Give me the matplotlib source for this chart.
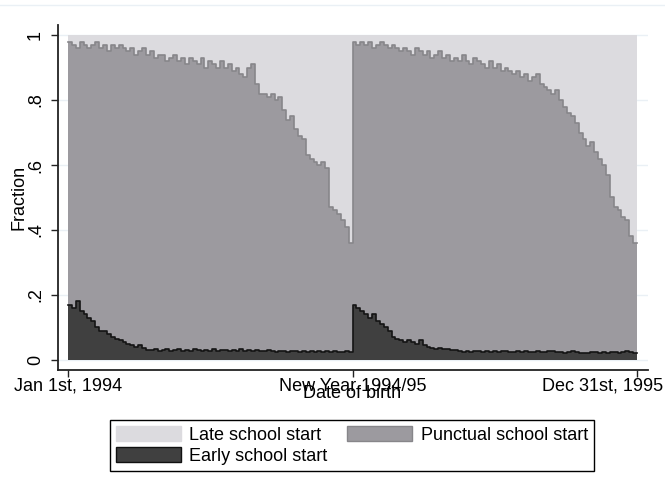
import numpy as np
import matplotlib
matplotlib.use('Agg')
import matplotlib.pyplot as plt
from matplotlib.patches import Patch
from matplotlib.transforms import ScaledTranslation

plt.rcParams['font.family'] = ['Liberation Sans', 'DejaVu Sans']

# ---- data (shares by 5-day bins of date of birth) ----
bin_days = 5

early_1994 = [0.17, 0.16, 0.18, 0.15, 0.14, 0.13, 0.12, 0.10, 0.09, 0.09,
              0.08, 0.07, 0.065, 0.06, 0.055, 0.05, 0.045, 0.04, 0.045, 0.038,
              0.032, 0.030, 0.035, 0.028, 0.030, 0.033, 0.027, 0.030, 0.034, 0.029,
              0.031, 0.028, 0.033, 0.030, 0.027, 0.031, 0.029, 0.034, 0.028, 0.030,
              0.032, 0.027, 0.030, 0.029, 0.033, 0.028, 0.030, 0.026, 0.031, 0.029,
              0.027, 0.030, 0.028, 0.025, 0.029, 0.027, 0.024, 0.028, 0.026, 0.025,
              0.027, 0.024, 0.026, 0.025, 0.028, 0.024, 0.026, 0.023, 0.027, 0.025,
              0.024, 0.026, 0.025]
early_1995 = [0.17, 0.16, 0.15, 0.14, 0.13, 0.14, 0.12, 0.11, 0.10, 0.09,
              0.07, 0.065, 0.06, 0.055, 0.06, 0.055, 0.05, 0.06, 0.045, 0.04,
              0.038, 0.035, 0.037, 0.033, 0.035, 0.032, 0.030,
              0.028, 0.025, 0.027, 0.024, 0.026, 0.028, 0.023, 0.026, 0.025, 0.027,
              0.024, 0.026, 0.028, 0.023, 0.025, 0.027, 0.024, 0.026, 0.025, 0.023,
              0.027, 0.025, 0.024, 0.026, 0.028, 0.023, 0.025, 0.022, 0.024, 0.026,
              0.023, 0.021, 0.022, 0.020, 0.023, 0.025, 0.022, 0.024, 0.021, 0.023,
              0.025, 0.022, 0.024, 0.026, 0.023, 0.022]
# early + punctual share (i.e. not late)
not_late_1994 = [0.98, 0.97, 0.96, 0.98, 0.97, 0.96, 0.97, 0.98, 0.96, 0.97,
                 0.95, 0.97, 0.96, 0.97, 0.96, 0.95, 0.96, 0.94, 0.95, 0.96,
                 0.94, 0.95, 0.93, 0.94, 0.94, 0.92, 0.93, 0.94, 0.92, 0.93,
                 0.91, 0.93, 0.92, 0.91, 0.93, 0.90, 0.92, 0.91, 0.90, 0.92,
                 0.90, 0.91, 0.89, 0.90, 0.88, 0.87, 0.90, 0.91, 0.85, 0.82,
                 0.82, 0.81, 0.82, 0.80, 0.81, 0.77, 0.74, 0.75, 0.71, 0.69,
                 0.68, 0.63, 0.62, 0.61, 0.60, 0.61, 0.59, 0.47, 0.46, 0.45,
                 0.43, 0.41, 0.36]
not_late_1995 = [0.98, 0.97, 0.98, 0.97, 0.98, 0.96, 0.97, 0.98, 0.97, 0.96,
                 0.97, 0.96, 0.95, 0.96, 0.95, 0.94, 0.96, 0.95, 0.94, 0.95,
                 0.93, 0.94, 0.95, 0.93, 0.94, 0.92, 0.93, 0.92, 0.94, 0.92,
                 0.91, 0.93, 0.92, 0.91, 0.90, 0.92, 0.90, 0.91, 0.89, 0.90,
                 0.89, 0.88, 0.89, 0.87, 0.88, 0.86, 0.87, 0.88, 0.85, 0.84,
                 0.83, 0.82, 0.83, 0.80, 0.78, 0.76, 0.75, 0.73, 0.70, 0.68,
                 0.66, 0.67, 0.64, 0.62, 0.60, 0.57, 0.50, 0.47, 0.46, 0.44,
                 0.43, 0.38, 0.36]

x_tick_days = [0, 365, 730]
x_tick_labels = ['Jan 1st, 1994', 'New Year 1994/95', 'Dec 31st, 1995']
y_ticks = [0, 0.2, 0.4, 0.6, 0.8, 1.0]
y_tick_labels = ['0', '.2', '.4', '.6', '.8', '1']
legend_labels = ['Late school start', 'Punctual school start', 'Early school start']

# ---- styles ----
late_c = '#dcdbdf'
punct_c = '#9c9a9f'
early_c = '#404040'
punct_edge = '#87868a'
early_edge = '#141414'
FS = 13

early = np.array(early_1994 + early_1995)
not_late = np.array(not_late_1994 + not_late_1995)
edges = np.arange(len(early) + 1) * bin_days
e = np.append(early, early[-1])
nl = np.append(not_late, not_late[-1])

W, H = 665, 494
fig = plt.figure(figsize=(W / 100, H / 100), dpi=100)
fig.patch.set_facecolor('white')
ax = fig.add_axes([58 / W, 1 - 370 / H, 590 / W, 345 / H])
ax.set_facecolor('white')

for yv in y_ticks:
    ax.axhline(yv, color='#eaf0f5', lw=1, zorder=0)

ax.fill_between(edges, nl, 1, step='post', color=late_c, lw=0, zorder=1)
ax.fill_between(edges, e, nl, step='post', color=punct_c, lw=0, zorder=2)
ax.fill_between(edges, 0, e, step='post', color=early_c, lw=0, zorder=3)
ax.step(edges, nl, where='post', color=punct_edge, lw=1.2, zorder=4)
ax.step(edges, e, where='post', color=early_edge, lw=1.2, zorder=5)

ax.set_xlim(-12.8, 744)
ax.set_ylim(-0.031, 1.031)

for s in ['top', 'right']:
    ax.spines[s].set_visible(False)
for s in ['left', 'bottom']:
    ax.spines[s].set_color('#222222')
    ax.spines[s].set_linewidth(1.3)

ax.set_yticks(y_ticks)
ax.set_yticklabels(y_tick_labels, rotation=90, va='center', fontsize=FS)
ax.set_xticks(x_tick_days)
ax.set_xticklabels(x_tick_labels, fontsize=FS)
ax.tick_params(axis='both', direction='out', length=5, width=1.0, color='#222222')
ax.tick_params(axis='y', pad=5)
ax.tick_params(axis='x', pad=0.5)

lbl = ax.get_xticklabels()[-1]
lbl.set_ha('right')
lbl.set_transform(lbl.get_transform() + ScaledTranslation(0.26, 0, fig.dpi_scale_trans))

ax.set_ylabel('Fraction', fontsize=FS, labelpad=0)
fig.text(352.5 / W, 1 - 398 / H, 'Date of birth', ha='center', va='baseline', fontsize=FS)

# faint outer border line at top
fig.add_artist(plt.Line2D([0, 1], [1 - 5 / H, 1 - 5 / H], transform=fig.transFigure,
                          color='#eaf0f5', lw=1))

handles = [Patch(facecolor=late_c, edgecolor=late_c),
           Patch(facecolor=early_c, edgecolor='#111111'),
           Patch(facecolor=punct_c, edgecolor=punct_edge)]
labels = [legend_labels[0], legend_labels[2], legend_labels[1]]
leg = fig.legend(handles, labels, loc='center', bbox_to_anchor=(352 / W, 1 - 445.5 / H),
                 ncol=2, fontsize=FS, frameon=True, fancybox=False, framealpha=1,
                 edgecolor='black', handlelength=3.6, handleheight=0.9,
                 handletextpad=0.45, columnspacing=1.1, labelspacing=0.2,
                 borderpad=0.35)
leg.get_frame().set_linewidth(1.0)

fig.savefig('out.png', dpi=100, facecolor='white')
